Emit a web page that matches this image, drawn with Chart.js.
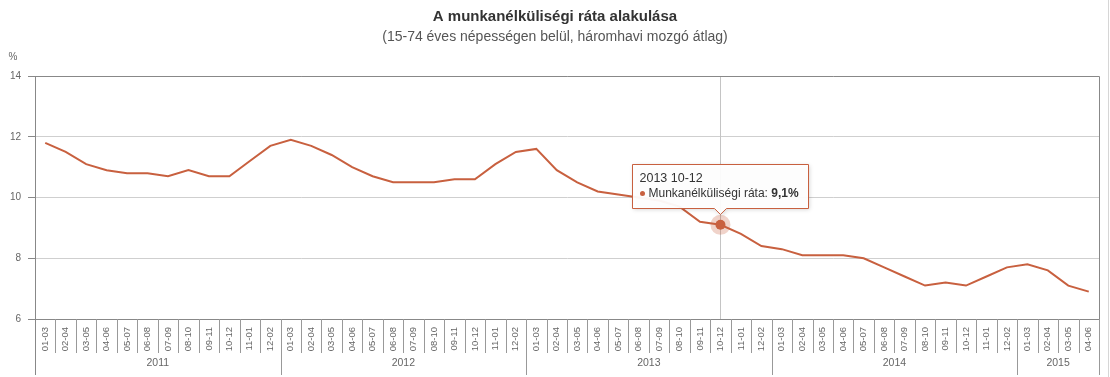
<!DOCTYPE html>
<html>
<head>
<meta charset="utf-8">
<script src="https://cdn.jsdelivr.net/npm/chart.js@4/dist/chart.umd.min.js"></script>
<style>
  body { margin: 0; background: #fff; }
  canvas { display: block; }
</style>
</head>
<body>
<canvas id="myChart" width="1110" height="377"></canvas>
<script>
// háromhavi időszakok, évenként
var monthLabels = ['01-03', '02-04', '03-05', '04-06', '05-07', '06-08', '07-09', '08-10', '09-11', '10-12', '11-01', '12-02'];
var years = ['2011', '2012', '2013', '2014', '2015'];
var yearCounts = [12, 12, 12, 12, 4];

// munkanélküliségi ráta, %
var rates = [
    11.8, 11.5, 11.1, 10.9, 10.8, 10.8, 10.7, 10.9, 10.7, 10.7, 11.2, 11.7,
    11.9, 11.7, 11.4, 11.0, 10.7, 10.5, 10.5, 10.5, 10.6, 10.6, 11.1, 11.5,
    11.6, 10.9, 10.5, 10.2, 10.1, 10.0, 9.9, 9.7, 9.2, 9.1, 8.8, 8.4,
    8.3, 8.1, 8.1, 8.1, 8.0, 7.7, 7.4, 7.1, 7.2, 7.1, 7.4, 7.7,
    7.8, 7.6, 7.1, 6.9
];
var yTicks = [6, 8, 10, 12, 14];

var titleText = 'A munkanélküliségi ráta alakulása';
var subtitleText = '(15-74 éves népességen belül, háromhavi mozgó átlag)';
var seriesName = 'Munkanélküliségi ráta';
var activeIndex = 33;

var lineColor = '#c8603f';
var FONT = "'Liberation Sans', Arial, sans-serif";

var periods = [];
var periodYears = [];
years.forEach(function (y, i) {
    for (var k = 0; k < yearCounts[i]; k++) {
        periods.push(monthLabels[k]);
        periodYears.push(y);
    }
});

var decor = {
    id: 'decor',
    beforeDatasetsDraw: function (chart) {
        var c = chart.ctx, a = chart.chartArea;
        var pt = chart.getDatasetMeta(0).data[activeIndex];
        c.save();
        c.strokeStyle = '#c4c4c4';
        c.lineWidth = 1;
        c.beginPath();
        c.moveTo(Math.round(pt.x) + 0.5, a.top);
        c.lineTo(Math.round(pt.x) + 0.5, a.bottom);
        c.stroke();
        c.restore();
    },
    afterDatasetsDraw: function (chart) {
        var c = chart.ctx;
        var pt = chart.getDatasetMeta(0).data[activeIndex];
        c.save();
        c.fillStyle = 'rgba(200,96,63,0.28)';
        c.beginPath(); c.arc(pt.x, pt.y, 10, 0, Math.PI * 2); c.fill();
        c.fillStyle = lineColor;
        c.beginPath(); c.arc(pt.x, pt.y, 5, 0, Math.PI * 2); c.fill();
        c.restore();
    },
    afterDraw: function (chart) {
        var c = chart.ctx, a = chart.chartArea, x = chart.scales.x;
        var W = chart.width;
        c.save();

        // címek
        c.textAlign = 'center';
        c.textBaseline = 'middle';
        c.fillStyle = '#333';
        c.font = 'bold 15px ' + FONT;
        c.fillText(titleText, W / 2, 17);
        c.fillStyle = '#555';
        c.font = '14px ' + FONT;
        c.fillText(subtitleText, W / 2, 37);
        c.fillStyle = '#666';
        c.font = '10px ' + FONT;
        c.fillText('%', 13, 57);

        // keret
        c.strokeStyle = '#888';
        c.lineWidth = 1;
        c.beginPath();
        c.moveTo(a.left, a.top + 0.5);
        c.lineTo(a.right + 0.5, a.top + 0.5);
        c.lineTo(a.right + 0.5, 375);
        c.moveTo(a.left + 0.5, a.bottom);
        c.lineTo(a.left + 0.5, 375);
        c.stroke();

        c.strokeStyle = '#d6d6d6';
        c.beginPath();
        c.moveTo(W - 1.5, 0);
        c.lineTo(W - 1.5, chart.height);
        c.stroke();

        // elválasztók az időszakok és évek között
        var step = x.getPixelForValue(1) - x.getPixelForValue(0);
        var idx = 0;
        c.strokeStyle = '#999';
        years.forEach(function (y, i) {
            for (var k = 0; k < yearCounts[i]; k++) {
                var sx = Math.round(x.getPixelForValue(idx + k) + step / 2) + 0.5;
                var last = (k === yearCounts[i] - 1);
                c.beginPath();
                c.moveTo(sx, a.bottom);
                c.lineTo(sx, last ? 375 : 353);
                c.stroke();
            }
            var mid = (x.getPixelForValue(idx) + x.getPixelForValue(idx + yearCounts[i] - 1)) / 2;
            c.fillStyle = '#666';
            c.font = '10.5px ' + FONT;
            c.textAlign = 'center';
            c.fillText(y, mid, 363);
            idx += yearCounts[i];
        });

        // kiemelt pont felirata
        var pt = chart.getDatasetMeta(0).data[activeIndex];
        var tTitle = periodYears[activeIndex] + ' ' + periods[activeIndex];
        var label = seriesName + ': ';
        var val = String(rates[activeIndex]).replace('.', ',') + '%';
        c.font = '12px ' + FONT;
        var wTitle = c.measureText(tTitle).width;
        var wLabel = c.measureText(label).width;
        c.font = 'bold 12px ' + FONT;
        var wVal = c.measureText(val).width;
        var bodyW = 10 + wLabel + wVal;
        var bw = Math.round(Math.max(wTitle, bodyW) + 16);
        var bh = 44;
        var bx = Math.round(pt.x - bw / 2) + 0.5;
        var by = Math.round(pt.y - 17 - bh) + 0.5;
        c.shadowColor = 'rgba(0,0,0,0.18)';
        c.shadowBlur = 4;
        c.shadowOffsetX = 1;
        c.shadowOffsetY = 1;
        c.fillStyle = 'rgba(255,255,255,0.95)';
        c.beginPath();
        c.moveTo(bx, by);
        c.lineTo(bx + bw, by);
        c.lineTo(bx + bw, by + bh);
        c.lineTo(pt.x + 6, by + bh);
        c.lineTo(pt.x, by + bh + 6);
        c.lineTo(pt.x - 6, by + bh);
        c.lineTo(bx, by + bh);
        c.closePath();
        c.fill();
        c.shadowColor = 'transparent';
        c.strokeStyle = lineColor;
        c.stroke();

        c.textAlign = 'left';
        c.textBaseline = 'middle';
        c.fillStyle = '#333';
        c.font = '12.5px ' + FONT;
        c.fillText(tTitle, bx + 7, by + 14);
        c.font = '12px ' + FONT;
        c.fillStyle = lineColor;
        c.beginPath(); c.arc(bx + 10, by + 29, 2.5, 0, Math.PI * 2); c.fill();
        c.fillStyle = '#333';
        c.fillText(label, bx + 16, by + 29);
        c.font = 'bold 12px ' + FONT;
        c.fillText(val, bx + 16 + wLabel, by + 29);

        c.restore();
    }
};

var ctx = document.getElementById('myChart').getContext('2d');
var myChart = new Chart(ctx, {
    type: 'line',
    data: {
        labels: periods,
        datasets: [{
            label: seriesName,
            data: rates,
            borderColor: lineColor,
            borderWidth: 2,
            pointRadius: 0,
            tension: 0,
            fill: false
        }]
    },
    options: {
        responsive: false,
        animation: false,
        events: [],
        layout: {
            padding: { top: 76, right: 11, left: 0, bottom: 0 }
        },
        plugins: {
            legend: { display: false },
            tooltip: { enabled: false }
        },
        scales: {
            x: {
                offset: true,
                grid: { display: false, drawTicks: false },
                border: { display: true, color: '#888' },
                ticks: {
                    autoSkip: false,
                    minRotation: 90,
                    maxRotation: 90,
                    padding: 8,
                    color: '#666',
                    font: { family: FONT, size: 9.5 }
                },
                afterFit: function (scale) { scale.height = 58; }
            },
            y: {
                min: 6,
                max: 14,
                afterBuildTicks: function (scale) {
                    scale.ticks = yTicks.map(function (v) { return { value: v }; });
                },
                grid: { color: '#cfcfcf', tickColor: '#888', tickLength: 7 },
                border: { display: true, color: '#888' },
                ticks: {
                    padding: 7,
                    color: '#666',
                    font: { family: FONT, size: 10 }
                },
                afterFit: function (scale) { scale.width = 35; }
            }
        }
    },
    plugins: [decor]
});
</script>
</body>
</html>
